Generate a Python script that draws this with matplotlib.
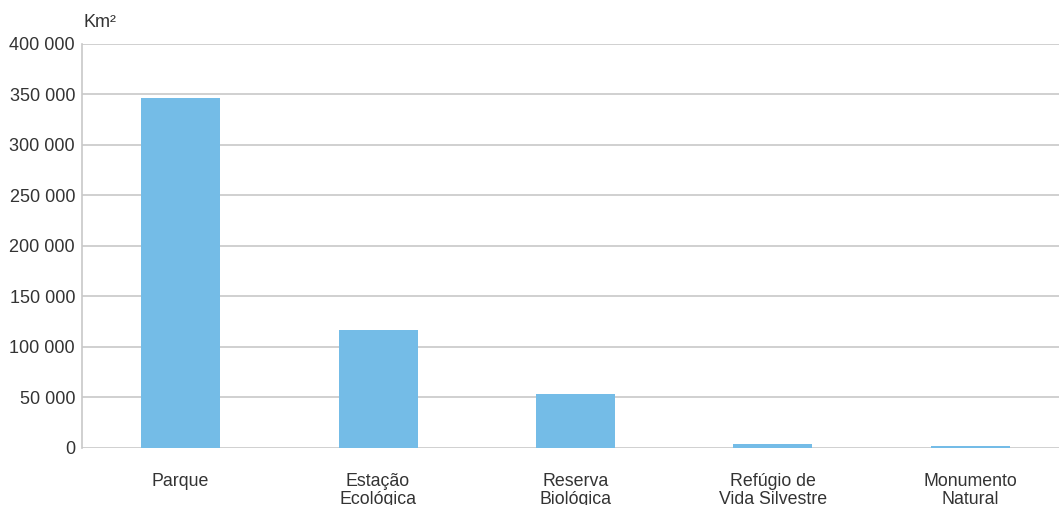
import matplotlib
matplotlib.use("Agg")
import matplotlib.pyplot as plt
from matplotlib.ticker import FuncFormatter

categories = ["Parque", "Estação\nEcológica", "Reserva\nBiológica",
              "Refúgio de\nVida Silvestre", "Monumento\nNatural"]
areas = [346500, 116500, 53000, 4000, 2000]
yticks = [0, 50000, 100000, 150000, 200000, 250000, 300000, 350000, 400000]

plt.rcParams['font.family'] = ['Liberation Sans', 'DejaVu Sans']
txt = '#333333'

fig = plt.figure(figsize=(10.59, 5.05), dpi=100)
ax = fig.add_axes([0.0774, 0.1129, 0.9226, 0.8])

ax.bar(range(len(categories)), areas, width=0.4, color='#74BCE7', zorder=2)

ax.set_xlim(-0.5, 4.45)
ax.set_ylim(0, 400000)
ax.set_yticks(yticks)
ax.yaxis.set_major_formatter(FuncFormatter(lambda v, p: f"{int(v):,}".replace(",", " ")))
ax.set_xticks(range(len(categories)))
ax.set_xticklabels(categories, linespacing=1.05)

ax.grid(axis='y', color='#c8c8c8', linewidth=1.2, zorder=1)
ax.set_axisbelow(True)
for s in ['top', 'right', 'bottom']:
    ax.spines[s].set_visible(False)
ax.spines['left'].set_color('#c8c8c8')
ax.spines['left'].set_linewidth(1.2)

ax.tick_params(axis='y', length=0, pad=5, labelsize=13, labelcolor=txt)
ax.tick_params(axis='x', length=0, pad=18, labelsize=12.8, labelcolor=txt)

fig.text(0.0784, 0.955, "Km²", fontsize=13, color=txt, ha='left', va='center')

fig.savefig('out.png', dpi=100)
